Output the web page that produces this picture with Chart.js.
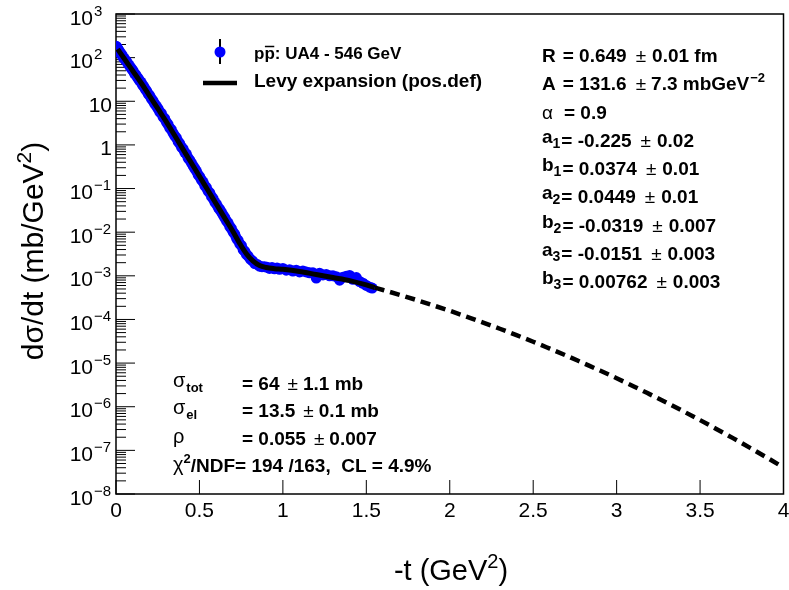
<!DOCTYPE html>
<html><head><meta charset="utf-8">
<script src="https://cdn.jsdelivr.net/npm/chart.js@4.4.0/dist/chart.umd.min.js"></script>
<style>html,body{margin:0;padding:0;background:#fff;}canvas{display:block;}</style>
</head><body>
<canvas id="c" width="789" height="590"></canvas>
<script>
// ---- data ----
const dataT = [
 0.002,0.005,0.008,0.012,0.016,0.02,0.025,0.03,0.036,0.042,
 0.048,0.055,0.062,0.07,0.078,0.086,0.094,0.102,0.11,0.118,
 0.126,0.134,0.142,0.15,0.158,0.166,0.175,0.184,0.193,0.202,
 0.212,0.222,0.232,0.242,0.252,0.262,0.272,0.282,0.292,0.302,
 0.312,0.322,0.332,0.342,0.352,0.362,0.372,0.382,0.392,0.402,
 0.412,0.422,0.432,0.442,0.452,0.462,0.472,0.482,0.492,0.502,
 0.512,0.522,0.532,0.542,0.552,0.562,0.572,0.582,0.592,0.602,
 0.612,0.622,0.632,0.642,0.652,0.662,0.672,0.682,0.692,0.702,
 0.712,0.722,0.732,0.742,0.752,0.762,0.772,0.782,0.792,0.805,
 0.818,0.832,0.846,0.86,0.875,0.89,0.905,0.92,0.935,0.95,
 0.965,0.98,1.0,1.02,1.04,1.06,1.08,1.10,1.12,1.14,
 1.16,1.18,1.2,1.22,1.24,1.26,1.28,1.30,1.32,1.34,
 1.36,1.38,1.40,1.42,1.44,1.46,1.48,1.50,1.52,1.535];
const dataY = [
 182,174,166,155,148,138,132,120,115,102,
 97.7,89.1,83.2,74.1,67.6,60.3,55.0,50.1,43.7,40.7,
 36.3,33.1,29.5,27.5,24.0,21.9,19.1,17.0,14.8,13.5,
 11.5,10.2,8.71,7.76,6.76,5.75,5.25,4.37,3.98,3.31,
 2.95,2.45,2.24,1.86,1.62,1.45,1.20,1.07,0.891,0.813,
 0.676,0.617,0.501,0.447,0.389,0.331,0.288,0.251,0.209,0.186,
 0.158,0.141,0.117,0.105,0.0871,0.0794,0.0661,0.0589,0.0490,0.0437,
 0.0372,0.0331,0.0288,0.0245,0.0214,0.0182,0.0162,0.0135,0.0120,0.0100,
 0.00891,0.00724,0.00646,0.00537,0.00490,0.00398,0.00363,0.00309,0.00282,0.00240,
 0.00219,0.00191,0.00182,0.00166,0.00162,0.00162,0.00158,0.00148,0.00155,0.00145,
 0.00151,0.00141,0.00148,0.00135,0.00138,0.00129,0.00135,0.00123,0.00129,0.00123,
 0.00117,0.00117,0.000891,0.00115,0.00105,0.00107,0.00100,0.00100,0.000955,0.000794,
 0.000933,0.000977,0.00102,0.000832,0.000912,0.000741,0.000676,0.000603,0.000550,0.000525];

const fitT = [0.01,0.05,0.1,0.15,0.2,0.25,0.3,0.35,0.4,0.45,0.5,0.55,0.6,0.65,0.7,0.74,0.78,0.82,0.86,0.9,0.95,1.0,1.1,1.2,1.3,1.4,1.5,1.55];
const fitY = [157,94.4,50.1,26.6,13.5,6.84,3.47,1.68,0.813,0.394,0.191,0.0923,0.0447,0.0216,0.0105,0.00562,0.00324,0.00219,0.00172,0.00155,0.00146,0.00141,0.00126,0.00107,0.000912,0.000776,0.000617,0.000537];

const extT = [1.55,1.6,1.7,1.8,1.9,2.0,2.1,2.2,2.3,2.4,2.5,2.6,2.7,2.8,2.9,3.0,3.1,3.2,3.3,3.4,3.5,3.6,3.7,3.8,3.9,4.0];
const extY = [5.37e-4,4.74e-4,3.66e-4,2.80e-4,2.11e-4,1.58e-4,1.16e-4,8.49e-5,6.12e-5,4.36e-5,3.08e-5,2.14e-5,1.48e-5,1.00e-5,6.76e-6,4.50e-6,2.96e-6,1.92e-6,1.24e-6,7.85e-7,4.93e-7,3.06e-7,1.88e-7,1.14e-7,6.84e-8,4.06e-8];

const xTicks = [0,0.5,1,1.5,2,2.5,3,3.5,4];
const xTickLabels = ['0','0.5','1','1.5','2','2.5','3','3.5','4'];
const yDecades = [3,2,1,0,-1,-2,-3,-4,-5,-6,-7,-8];
const yTickBase = ['10','10','10','1','10','10','10','10','10','10','10','10'];
const yTickExp  = ['3','2','','','\u22121','\u22122','\u22123','\u22124','\u22125','\u22126','\u22127','\u22128'];

const legendLabels = ['UA4 - 546 GeV', 'Levy expansion (pos.def)'];

// ---- drawing helpers ----
const FONT = '"Liberation Sans", Arial, Helvetica, sans-serif';
function S(t, size, bold, dy, dx) { return {t: t, size: size, bold: bold, dy: dy || 0, dx: dx || 0}; }
function setFont(ctx, s) { ctx.font = (s.bold ? 'bold ' : '') + s.size + 'px ' + FONT; }
function segsWidth(ctx, segs) {
  let w = 0;
  for (const s of segs) { setFont(ctx, s); w += s.dx + ctx.measureText(s.t).width; }
  return w;
}
function drawSegs(ctx, x, y, segs) {
  ctx.textAlign = 'left'; ctx.textBaseline = 'alphabetic';
  for (const s of segs) {
    setFont(ctx, s);
    x += s.dx;
    ctx.fillText(s.t, x, y + s.dy);
    x += ctx.measureText(s.t).width;
  }
  return x;
}

const FS = 19;
const PM = '\u00b1';
function pm(gapBefore, gapAfter) { return [S(PM, FS, false, 0, gapBefore), S('', FS, true, 0, gapAfter)]; }
const paramRows = [
  [S('R',FS,true), S('= 0.649',FS,true,0,7), ...pm(9,6), S('0.01 fm',FS,true)],
  [S('A',FS,true), S('= 131.6',FS,true,0,7), ...pm(9,5), S('7.3 mbGeV',FS,true), S('\u22122',13,true,-8,1)],
  [S('\u03b1',FS,false), S('= 0.9',FS,true,0,11)],
  [S('a',FS,true,-4), S('1',14,true,1), S('= -0.225',FS,true,0,1), ...pm(9,6), S('0.02',FS,true)],
  [S('b',FS,true,-4), S('1',14,true,1), S('= 0.0374',FS,true,0,1), ...pm(9,6), S('0.01',FS,true)],
  [S('a',FS,true,-4), S('2',14,true,1), S('= 0.0449',FS,true,0,1), ...pm(9,6), S('0.01',FS,true)],
  [S('b',FS,true,-4), S('2',14,true,1), S('= -0.0319',FS,true,0,1), ...pm(9,6), S('0.007',FS,true)],
  [S('a',FS,true,-4), S('3',14,true,1), S('= -0.0151',FS,true,0,1), ...pm(9,6), S('0.003',FS,true)],
  [S('b',FS,true,-4), S('3',14,true,1), S('= 0.00762',FS,true,0,1), ...pm(9,6), S('0.003',FS,true)]
];
const statLabels = [
  [S('\u03c3',20,false,-3), S('tot',13,true,2,1)],
  [S('\u03c3',20,false,-3), S('el',13,true,2,1)],
  [S('\u03c1',20,false,-2)],
  null
];
const statValues = [
  [S('= 64',FS,true), ...pm(8,5), S('1.1 mb',FS,true)],
  [S('= 13.5',FS,true), ...pm(8,5), S('0.1 mb',FS,true)],
  [S('= 0.055',FS,true), ...pm(8,5), S('0.007',FS,true)],
  [S('\u03c7',20,false,-1), S('2',13,true,-9), S('/NDF= 194 /163,  CL = 4.9%',FS,true)]
];

const rootPlugin = {
  id: 'rootStyle',
  beforeDatasetsDraw(chart) {
    const ctx = chart.ctx, a = chart.chartArea;
    const xs = chart.scales.x, ys = chart.scales.y;
    ctx.save();
    ctx.strokeStyle = '#000';
    ctx.lineWidth = 1;
    ctx.beginPath();
    for (const d of yDecades) {
      const py = ys.getPixelForValue(Math.pow(10, d));
      ctx.moveTo(a.left, py); ctx.lineTo(a.left + 19, py);
      if (d > -8) {
        for (let m = 2; m <= 9; m++) {
          const pmn = ys.getPixelForValue(m * Math.pow(10, d - 1));
          ctx.moveTo(a.left, pmn); ctx.lineTo(a.left + 10, pmn);
        }
      }
    }
    for (const t of xTicks) {
      const px = xs.getPixelForValue(t);
      ctx.moveTo(px, a.bottom); ctx.lineTo(px, a.bottom - 14);
    }
    ctx.stroke();
    ctx.lineWidth = 1.5;
    ctx.strokeRect(a.left, a.top, a.right - a.left, a.bottom - a.top);
    ctx.restore();
  },
  afterDraw(chart) {
    const ctx = chart.ctx;
    const xs = chart.scales.x, ys = chart.scales.y;
    ctx.save();
    ctx.fillStyle = '#000';
    ctx.font = '21px ' + FONT; ctx.textAlign = 'center'; ctx.textBaseline = 'alphabetic';
    xTicks.forEach((t, i) => ctx.fillText(xTickLabels[i], xs.getPixelForValue(t), 517));
    yDecades.forEach((d, i) => {
      const py = ys.getPixelForValue(Math.pow(10, d)) + 10.5;
      ctx.font = '21px ' + FONT; ctx.textAlign = 'right';
      if (yTickExp[i] === '') {
        ctx.fillText(yTickBase[i], 112, py);
      } else {
        ctx.fillText(yTickBase[i], 93, py);
        ctx.textAlign = 'left'; ctx.font = '15px ' + FONT;
        ctx.fillText(yTickExp[i], 94, py - 9);
      }
    });
    const xt = [S('-t (GeV',29,false), S('2',20,false,-12), S(')',29,false)];
    drawSegs(ctx, 451 - segsWidth(ctx, xt) / 2, 580, xt);
    const yt = [S('d\u03c3/dt (mb/GeV',30,false), S('2',21,false,-12), S(')',30,false)];
    ctx.save();
    ctx.translate(43, 251); ctx.rotate(-Math.PI / 2);
    drawSegs(ctx, -segsWidth(ctx, yt) / 2, 0, yt);
    ctx.restore();
    paramRows.forEach((row, i) => drawSegs(ctx, 542, 62 + 28.25 * i, row));
    statValues.forEach((vals, i) => {
      const by = 389.5 + 27.5 * i;
      if (statLabels[i]) { drawSegs(ctx, 173, by, statLabels[i]); drawSegs(ctx, 242, by, vals); }
      else drawSegs(ctx, 173, by, vals);
    });
    // legend
    ctx.strokeStyle = '#000'; ctx.lineWidth = 2;
    ctx.beginPath(); ctx.moveTo(220, 39); ctx.lineTo(220, 64); ctx.stroke();
    ctx.fillStyle = '#0000ff';
    ctx.beginPath(); ctx.arc(220, 52, 5.5, 0, Math.PI * 2); ctx.fill();
    ctx.fillStyle = '#000';
    ctx.lineWidth = 4.5;
    ctx.beginPath(); ctx.moveTo(203, 83); ctx.lineTo(237, 83); ctx.stroke();
    ctx.font = 'bold 17px ' + FONT; ctx.textAlign = 'left';
    const wp = ctx.measureText('p').width;
    ctx.fillText('pp', 254, 59);
    ctx.lineWidth = 1.5;
    ctx.beginPath(); ctx.moveTo(254 + wp + 0.5, 46.5); ctx.lineTo(254 + 2 * wp - 0.5, 46.5); ctx.stroke();
    ctx.fillText(': ' + legendLabels[0], 254 + 2 * wp, 59);
    ctx.font = 'bold 19px ' + FONT;
    ctx.fillText(legendLabels[1], 254, 87);
    ctx.restore();
  }
};

const pts = (T, Y) => T.map((t, i) => ({x: t, y: Y[i]}));

new Chart(document.getElementById('c'), {
  type: 'scatter',
  data: { datasets: [
    { label: legendLabels[1], data: pts(fitT, fitY), showLine: true, borderColor: '#000', borderWidth: 5,
      pointRadius: 0, pointHoverRadius: 0, cubicInterpolationMode: 'monotone', order: 0, fill: false },
    { label: 'extrapolation', data: pts(extT, extY), showLine: true, borderColor: '#000', borderWidth: 4.5,
      borderDash: [10, 6], pointRadius: 0, pointHoverRadius: 0, cubicInterpolationMode: 'monotone', order: 1, fill: false },
    { label: legendLabels[0], data: pts(dataT, dataY), showLine: false, pointRadius: 5.5, pointHoverRadius: 5.5,
      pointBackgroundColor: '#0000ff', pointBorderColor: '#0000ff', pointBorderWidth: 0, order: 2 }
  ]},
  options: {
    responsive: false, animation: false, devicePixelRatio: 1, events: [],
    layout: { padding: { left: 116, top: 14, right: 2.5, bottom: 96 } },
    scales: {
      x: { type: 'linear', min: 0, max: 4, display: false },
      y: { type: 'logarithmic', min: 1e-8, max: 1e3, display: false }
    },
    plugins: { legend: { display: false }, tooltip: { enabled: false }, title: { display: false } }
  },
  plugins: [rootPlugin]
});
</script>
</body></html>
